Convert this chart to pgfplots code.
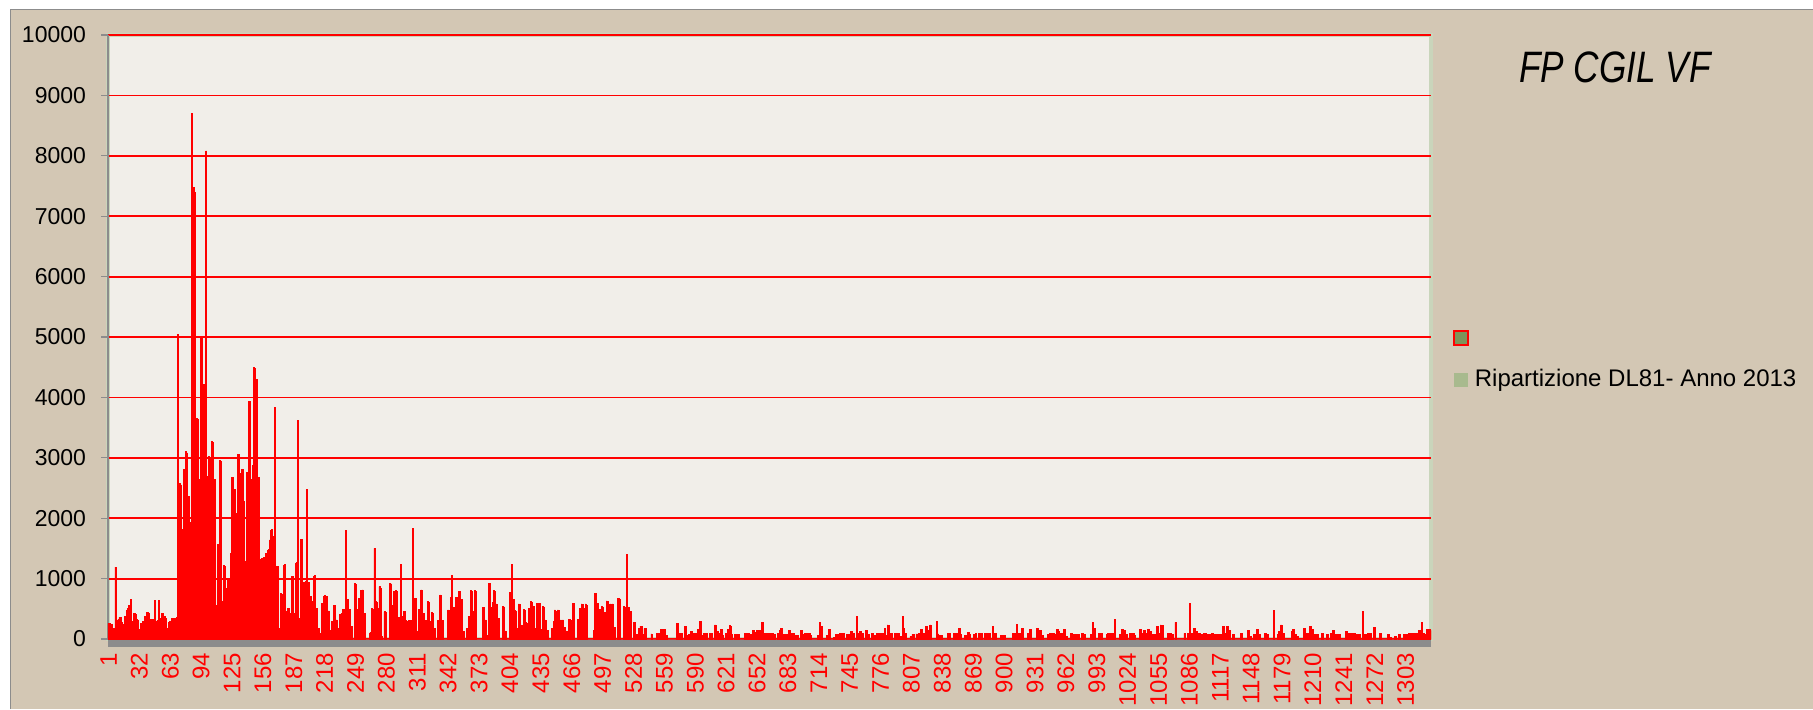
\documentclass[border=0pt]{standalone}
\usepackage{fontspec}
\setmainfont{Liberation Sans}
\usepackage{graphicx}
\usepackage{pgfplots}
\pgfplotsset{compat=1.18}
\definecolor{pagebg}{RGB}{211,199,180}
\definecolor{plotbg}{RGB}{241,238,233}
\definecolor{plotgreen}{RGB}{201,213,187}
\definecolor{axgray}{RGB}{140,140,140}
\definecolor{legolive}{RGB}{125,148,90}
\definecolor{leglight}{RGB}{168,186,142}
\definecolor{barred}{RGB}{255,0,0}
\pgfplotsset{dl/.style={ybar, bar width=1, bar shift=0pt, fill=barred, draw=barred, line width=0.45pt, forget plot}}
\begin{document}
\begin{tikzpicture}
\useasboundingbox (0pt,0pt) rectangle (906.5pt,354.5pt);
\fill[white] (0pt,0pt) rectangle (906.5pt,354.5pt);
\fill[pagebg] (5.25pt,0pt) rectangle (906.5pt,349.75pt);
\draw[axgray, line width=0.8pt] (5.25pt,0pt) -- (5.25pt,349.75pt) -- (906.5pt,349.75pt);
\begin{axis}[
  at={(54pt,35pt)}, anchor=south west,
  scale only axis, width=661.5pt, height=302pt,
  xmin=0.5, xmax=1328.5, ymin=0, ymax=10000,
  axis background/.style={fill=plotbg, draw=plotgreen, line width=2pt},
  axis x line*=bottom, axis y line*=left,
  x axis line style={-, draw=axgray, line width=4pt, yshift=-2pt},
  y axis line style={-, draw=axgray, line width=0.6pt},
  ymajorgrids, grid style={barred, line width=0.9pt},
  ytick={0,1000,...,10000},
  xtick={1,32,...,1303},
  scaled y ticks=false,
  /pgf/number format/1000 sep={},
  /pgf/number format/assume math mode=true,
  tick align=outside,
  major tick length=3.5pt,
  ytick style={draw=axgray, line width=0.6pt},
  xtick style={draw=none},
  yticklabel style={font=\fontsize{11.5}{12}\selectfont, text=black, xshift=-4pt},
  xticklabel style={font=\fontsize{12}{12}\selectfont, text=barred, rotate=90, anchor=east},
  legend style={at={(1.0166,0.5116)}, anchor=north west, draw=none, fill=none, inner sep=0pt,
    font=\fontsize{12}{14}\selectfont, row sep=10pt, nodes={inner sep=1.75pt},
    /tikz/every odd column/.append style={column sep=1.2pt}},
  legend cell align=left,
  legend image code/.code={\path[#1] (0pt,-3.5pt) rectangle (7pt,3.5pt);},
]
\addlegendimage{draw=barred, fill=legolive, line width=0.8pt}
\addlegendentry{}
\addlegendimage{draw=none, fill=leglight}
\addlegendentry{Ripartizione DL81- Anno 2013}
% k = 1..70
\addplot[dl] table[header=false, row sep=\\, x expr=\coordindex+1, y index=0] {
260\\250\\240\\245\\180\\175\\170\\1190\\300\\290\\
330\\360\\350\\290\\280\\230\\240\\370\\380\\480\\
500\\550\\520\\660\\290\\280\\430\\420\\410\\320\\
300\\150\\140\\260\\250\\290\\280\\370\\360\\440\\
440\\430\\330\\320\\330\\325\\300\\645\\290\\285\\
300\\635\\340\\335\\425\\420\\315\\370\\340\\177\\
180\\276\\287\\290\\340\\345\\340\\330\\340\\350\\
};
% k = 71..150
\addplot[dl] table[header=false, row sep=\\, x expr=\coordindex+71, y index=0] {
5040\\1300\\2570\\2550\\1820\\1250\\2810\\2780\\3105\\3080\\
1940\\2360\\870\\1930\\8700\\1320\\7470\\7400\\1500\\3650\\
3640\\2630\\2640\\5000\\4990\\4200\\4210\\1450\\8080\\1460\\
2690\\3020\\3000\\2620\\3270\\3260\\2600\\2635\\547\\560\\
1558\\1530\\2950\\2940\\602\\620\\1210\\1200\\840\\810\\
1005\\1000\\911\\1420\\2680\\2670\\2480\\2470\\2083\\180\\
3060\\3050\\2746\\2470\\2810\\2800\\2276\\1282\\1280\\2757\\
2750\\3934\\3930\\2635\\2600\\2867\\4497\\4480\\4293\\4290\\
};
% k = 151..238
\addplot[dl] table[header=false, row sep=\\, x expr=\coordindex+151, y index=0] {
2680\\2670\\1310\\1300\\1340\\1330\\1350\\1230\\1420\\1410\\
1460\\1475\\1640\\1800\\1820\\1670\\1700\\3835\\315\\1200\\
1200\\177\\150\\756\\745\\0\\1225\\1238\\450\\436\\
510\\508\\425\\414\\1030\\1033\\425\\420\\1250\\1265\\
3615\\340\\326\\1650\\1650\\920\\934\\400\\950\\2470\\
920\\934\\700\\700\\620\\620\\1030\\1050\\510\\508\\
177\\177\\90\\0\\590\\580\\710\\713\\700\\700\\
450\\464\\120\\138\\287\\287\\560\\552\\287\\315\\
177\\177\\400\\414\\425\\490\\490\\480\\
};
% k = 239..304
\addplot[dl] table[header=false, row sep=\\, x expr=\coordindex+239, y index=0] {
1795\\660\\657\\480\\490\\200\\204\\0\\0\\920\\
911\\490\\480\\670\\657\\810\\232\\812\\90\\425\\
0\\0\\0\\0\\100\\105\\510\\490\\490\\1500\\
620\\602\\510\\490\\866\\840\\40\\0\\0\\450\\
436\\0\\0\\0\\0\\920\\911\\560\\536\\780\\
757\\810\\785\\204\\359\\360\\1227\\370\\315\\453\\
450\\300\\280\\290\\300\\310\\
};
% k = 305..405
\addplot[dl] table[header=false, row sep=\\, x expr=\coordindex+305, y index=0] {
280\\300\\1834\\674\\
660\\670\\122\\130\\492\\480\\812\\800\\425\\430\\
304\\300\\150\\619\\610\\287\\290\\436\\430\\177\\
180\\0\\0\\304\\300\\729\\720\\304\\300\\0\\
0\\0\\0\\481\\470\\177\\690\\1050\\525\\520\\
510\\690\\680\\646\\785\\780\\657\\650\\122\\120\\
0\\0\\177\\180\\370\\360\\796\\790\\453\\450\\
796\\790\\0\\0\\0\\0\\0\\0\\525\\520\\
315\\310\\66\\60\\922\\920\\525\\520\\608\\796\\
790\\580\\575\\342\\340\\0\\0\\0\\536\\530\\
133\\130\\0\\0\\0\\774\\
};
% k = 406..520
\addplot[dl] table[header=false, row sep=\\, x expr=\coordindex+406, y index=0] {
1238\\657\\650\\470\\460\\177\\170\\580\\570\\232\\
230\\0\\492\\480\\271\\265\\260\\508\\500\\619\\
610\\547\\540\\177\\170\\591\\590\\591\\585\\160\\
155\\536\\530\\315\\310\\149\\140\\0\\0\\0\\
177\\170\\287\\481\\149\\453\\481\\470\\188\\315\\
310\\315\\193\\190\\133\\130\\0\\326\\320\\304\\
300\\591\\585\\0\\0\\0\\326\\320\\508\\500\\
580\\575\\326\\508\\580\\560\\0\\0\\0\\0\\
0\\0\\138\\757\\750\\591\\585\\492\\490\\149\\
536\\530\\315\\436\\440\\630\\625\\580\\575\\580\\
570\\580\\193\\190\\0\\0\\674\\670\\660\\0\\
0\\0\\536\\530\\0\\
};
% k = 521..700
\addplot[dl] table[header=false, row sep=\\, x expr=\coordindex+521, y index=0] {
1392\\525\\520\\453\\450\\0\\0\\271\\270\\83\\
80\\0\\177\\170\\215\\210\\77\\0\\177\\170\\
0\\0\\0\\0\\0\\83\\80\\0\\0\\0\\
0\\94\\90\\94\\92\\160\\155\\105\\160\\155\\
66\\60\\0\\0\\0\\0\\0\\0\\0\\0\\
0\\260\\255\\94\\90\\94\\90\\0\\0\\215\\
210\\66\\60\\77\\75\\122\\120\\94\\90\\94\\
92\\94\\160\\155\\298\\290\\66\\60\\94\\90\\
94\\92\\0\\0\\94\\90\\92\\0\\0\\232\\
225\\122\\120\\94\\90\\160\\155\\66\\0\\0\\
94\\90\\160\\155\\221\\215\\77\\0\\0\\77\\
75\\77\\74\\77\\0\\0\\0\\0\\0\\94\\
90\\94\\92\\94\\77\\75\\77\\149\\145\\105\\
100\\149\\145\\66\\149\\145\\276\\270\\94\\90\\
94\\92\\94\\90\\94\\92\\94\\90\\77\\75\\
0\\0\\94\\90\\149\\177\\170\\77\\75\\77\\
74\\77\\0\\149\\145\\94\\90\\94\\92\\66\\
0\\66\\60\\0\\0\\149\\145\\77\\75\\94\\
};
% k = 701..900
\addplot[dl] table[header=false, row sep=\\, x expr=\coordindex+701, y index=0] {
94\\90\\94\\92\\94\\66\\0\\0\\0\\0\\
0\\0\\66\\60\\276\\204\\200\\0\\0\\0\\
0\\66\\60\\160\\155\\0\\0\\0\\28\\25\\
77\\75\\0\\77\\94\\90\\94\\92\\94\\0\\
0\\77\\75\\77\\74\\122\\120\\94\\90\\0\\
0\\370\\94\\90\\122\\120\\94\\90\\0\\0\\
138\\135\\77\\75\\0\\0\\94\\90\\66\\60\\
0\\94\\90\\94\\92\\94\\90\\94\\0\\177\\
66\\60\\232\\225\\77\\94\\90\\0\\0\\94\\
90\\0\\94\\92\\39\\39\\0\\370\\177\\94\\
90\\0\\0\\0\\0\\39\\39\\77\\75\\0\\
0\\83\\80\\94\\90\\94\\160\\155\\94\\90\\
94\\204\\200\\149\\145\\232\\225\\0\\0\\0\\
0\\0\\298\\83\\66\\60\\66\\62\\0\\0\\
0\\0\\0\\94\\90\\94\\0\\0\\0\\94\\
90\\94\\92\\94\\177\\170\\77\\0\\0\\0\\
66\\60\\0\\110\\105\\77\\0\\0\\0\\77\\
75\\94\\0\\0\\94\\77\\94\\90\\0\\0\\
94\\90\\94\\92\\94\\90\\0\\0\\215\\83\\
94\\90\\0\\0\\0\\0\\66\\60\\66\\62\\
};
% k = 901..1100
\addplot[dl] table[header=false, row sep=\\, x expr=\coordindex+901, y index=0] {
66\\0\\0\\0\\0\\0\\0\\0\\94\\90\\
94\\92\\243\\94\\90\\94\\92\\177\\170\\0\\
0\\0\\0\\94\\90\\160\\155\\0\\0\\0\\
0\\0\\177\\170\\94\\149\\145\\66\\60\\0\\
0\\0\\0\\77\\75\\94\\90\\94\\92\\94\\
83\\80\\160\\155\\122\\77\\94\\90\\94\\160\\
155\\39\\39\\0\\0\\0\\94\\90\\77\\75\\
77\\74\\77\\75\\77\\0\\0\\94\\90\\77\\
75\\0\\0\\0\\0\\0\\77\\75\\276\\177\\
170\\0\\0\\0\\94\\90\\94\\92\\0\\0\\
0\\0\\77\\94\\90\\77\\94\\90\\94\\92\\
331\\0\\0\\0\\0\\77\\75\\160\\155\\138\\
135\\77\\75\\0\\0\\94\\90\\66\\94\\90\\
66\\0\\0\\0\\0\\160\\155\\94\\90\\138\\
135\\94\\90\\160\\155\\122\\120\\77\\75\\77\\
74\\0\\215\\210\\94\\90\\232\\225\\228\\0\\
0\\0\\0\\94\\90\\77\\94\\77\\75\\0\\
0\\276\\0\\0\\0\\0\\0\\0\\0\\0\\
94\\90\\0\\0\\94\\90\\591\\94\\90\\94\\
177\\170\\122\\120\\94\\90\\94\\77\\75\\77\\
};
% k = 1101..1328
\addplot[dl] table[header=false, row sep=\\, x expr=\coordindex+1101, y index=0] {
94\\90\\94\\77\\75\\77\\74\\77\\94\\90\\
77\\75\\77\\74\\77\\75\\77\\74\\77\\215\\
210\\94\\90\\215\\210\\138\\135\\0\\0\\77\\
75\\0\\0\\0\\0\\0\\0\\94\\90\\0\\
0\\0\\0\\0\\149\\145\\39\\39\\0\\0\\
77\\75\\0\\160\\155\\77\\75\\0\\0\\0\\
0\\94\\90\\77\\75\\0\\0\\0\\0\\0\\
470\\0\\0\\0\\77\\122\\120\\232\\225\\94\\
90\\0\\0\\0\\0\\0\\0\\0\\122\\160\\
155\\77\\75\\39\\39\\0\\0\\0\\0\\0\\
177\\170\\77\\94\\90\\94\\215\\210\\160\\155\\
77\\75\\0\\77\\75\\0\\0\\0\\94\\90\\
0\\0\\0\\77\\75\\0\\0\\94\\90\\149\\
145\\77\\75\\77\\74\\77\\75\\0\\0\\0\\
0\\0\\122\\120\\94\\90\\94\\92\\94\\90\\
94\\92\\77\\75\\0\\77\\75\\0\\0\\453\\
77\\75\\77\\74\\94\\90\\94\\92\\0\\0\\
188\\185\\0\\0\\0\\0\\94\\90\\0\\0\\
0\\0\\0\\0\\77\\75\\28\\28\\0\\0\\
0\\39\\39\\0\\0\\77\\75\\0\\0\\0\\
77\\75\\0\\77\\75\\94\\90\\94\\92\\94\\
90\\94\\0\\94\\90\\149\\145\\77\\276\\94\\
90\\77\\75\\160\\155\\160\\150\\140\\
};
\end{axis}
\node[font=\fontsize{22}{22}\selectfont\itshape] at (807.5pt,321pt) {\scalebox{0.8}[1]{FP CGIL VF}};
\end{tikzpicture}
\end{document}
